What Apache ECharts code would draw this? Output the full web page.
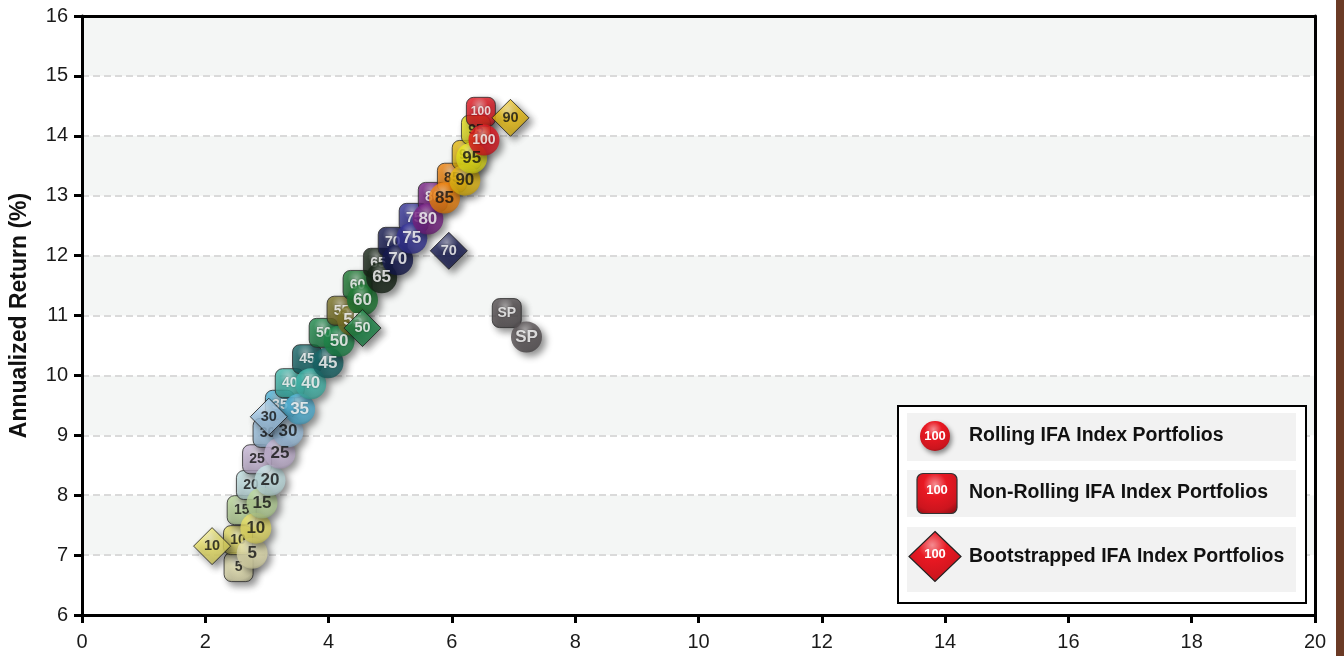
<!DOCTYPE html>
<html>
<head>
<meta charset="utf-8">
<script src="https://cdn.jsdelivr.net/npm/echarts@6/dist/echarts.min.js"></script>
<style>
  html, body { margin: 0; padding: 0; background: #ffffff; }
  #chart { width: 1344px; height: 656px; }
</style>
</head>
<body>
<div id="chart"></div>
<script>
// Equity allocation (%) of each IFA Index Portfolio
const allocations = [5, 10, 15, 20, 25, 30, 35, 40, 45, 50, 55, 60, 65, 70, 75, 80, 85, 90, 95, 100];

// Rolling portfolios: annualized standard deviation and return (%)
const rollingRisk   = [2.76, 2.82, 2.92, 3.05, 3.21, 3.34, 3.53, 3.71, 3.99, 4.17, 4.39, 4.55, 4.86, 5.12, 5.35, 5.61, 5.88, 6.21, 6.32, 6.52];
const rollingReturn = [7.03, 7.45, 7.87, 8.25, 8.70, 9.06, 9.44, 9.86, 10.21, 10.57, 10.92, 11.26, 11.63, 11.93, 12.29, 12.61, 12.96, 13.26, 13.63, 13.93];

// Non-rolling portfolios
const nonRollingRisk   = [2.54, 2.53, 2.59, 2.74, 2.84, 3.01, 3.21, 3.37, 3.65, 3.92, 4.21, 4.47, 4.80, 5.04, 5.38, 5.69, 6.00, 6.24, 6.39, 6.47];
const nonRollingReturn = [6.80, 7.25, 7.75, 8.17, 8.60, 9.04, 9.51, 9.87, 10.27, 10.71, 11.08, 11.51, 11.88, 12.23, 12.63, 12.98, 13.30, 13.68, 14.10, 14.40];

// Bootstrapped portfolios
const bootAllocations = [10, 30, 50, 70, 90];
const bootRisk   = [2.11, 3.03, 4.55, 5.95, 6.95];
const bootReturn = [7.15, 9.31, 10.79, 12.08, 14.30];

// S&P 500 reference points [risk, return]
const spRolling    = [7.21, 10.64];
const spNonRolling = [6.89, 11.04];

// Axis ticks
const xTicks = [0, 2, 4, 6, 8, 10, 12, 14, 16, 18, 20];
const yTicks = [6, 7, 8, 9, 10, 11, 12, 13, 14, 15, 16];

// Palette per allocation
const palette = {
  5: '#ece8b6', 10: '#efe66a', 15: '#bfdc9e', 20: '#c8e8ea', 25: '#cdbcdc',
  30: '#a6cdec', 35: '#55b9de', 40: '#45bdb0', 45: '#17696b', 50: '#1f8c4c',
  55: '#7e7628', 60: '#1f7d35', 65: '#172617', 70: '#161a52', 75: '#37359a',
  80: '#7d2489', 85: '#f5870f', 90: '#edc012', 95: '#ece91c', 100: '#e81822',
  SP: '#585254'
};
const darkText = { 5: 1, 10: 1, 15: 1, 20: 1, 25: 1, 30: 1, 85: 1, 90: 1, 95: 1 };

function hexToRgb(h) {
  const n = parseInt(h.slice(1), 16);
  return [(n >> 16) & 255, (n >> 8) & 255, n & 255];
}
function mix(h, t, k) {
  const a = hexToRgb(h), b = hexToRgb(t);
  const c = a.map((v, i) => Math.round(v + (b[i] - v) * k));
  return 'rgb(' + c.join(',') + ')';
}
function gloss(h) {
  return {
    type: 'radial', x: 0.45, y: 0.28, r: 0.8,
    colorStops: [
      { offset: 0, color: mix(h, '#ffffff', 0.5) },
      { offset: 0.35, color: h },
      { offset: 0.8, color: mix(h, '#000000', 0.12) },
      { offset: 1, color: mix(h, '#000000', 0.35) }
    ]
  };
}

function makePoint(key, x, y, kind) {
  const dark = darkText[key];
  const isHundred = key === 100;
  let fs;
  if (kind === 'circle') fs = isHundred ? 14 : 17;
  else if (kind === 'square') fs = isHundred ? 12 : 14;
  else fs = 14.5;
  return {
    value: [x, y],
    name: String(key),
    itemStyle: { color: gloss(palette[key]) },
    label: {
      color: dark ? '#111' : '#ffffff',
      fontSize: fs,
      textShadowColor: dark ? 'transparent' : 'rgba(0,0,0,0.5)',
      textShadowBlur: dark ? 0 : 2
    }
  };
}

const rollingData = allocations.map((a, i) => makePoint(a, rollingRisk[i], rollingReturn[i], 'circle'));
rollingData.push(makePoint('SP', spRolling[0], spRolling[1], 'circle'));
const nonRollingData = allocations.map((a, i) => makePoint(a, nonRollingRisk[i], nonRollingReturn[i], 'square'));
nonRollingData.unshift(makePoint('SP', spNonRolling[0], spNonRolling[1], 'square'));
const bootData = bootAllocations.map((a, i) => makePoint(a, bootRisk[i], bootReturn[i], 'diamond'));

const shadow = {
  shadowBlur: 7, shadowOffsetX: 4, shadowOffsetY: 4, shadowColor: 'rgba(0,0,0,0.55)'
};
const labelBase = {
  show: true, position: 'inside', fontWeight: 'bold',
  fontFamily: 'Liberation Sans, Arial, sans-serif',
  formatter: p => p.name
};

const FONT = 'Liberation Sans, Arial, sans-serif';
const red = '#e81822';

// Legend drawn as graphic elements
const legendLeft = 897, legendTop = 405;
const legendItems = [
  { text: 'Rolling IFA Index Portfolios', top: 413, h: 48, icon: 'circle' },
  { text: 'Non-Rolling IFA Index Portfolios', top: 470, h: 47, icon: 'square' },
  { text: 'Bootstrapped IFA Index Portfolios', top: 527, h: 65, icon: 'diamond' }
];
const legendGraphics = [{
  type: 'rect', left: legendLeft, top: legendTop, z: 20,
  shape: { width: 408, height: 197 },
  style: { fill: '#ffffff', stroke: '#000000', lineWidth: 2 }
}];
legendItems.forEach(it => {
  const cy = it.top + it.h / 2;
  legendGraphics.push({
    type: 'rect', left: 907, top: it.top, z: 21,
    shape: { width: 389, height: it.h }, style: { fill: '#f2f2f2' }
  });
  let iconShape;
  if (it.icon === 'circle') {
    iconShape = { type: 'circle', x: 935, y: cy - 1, z: 22, shape: { cx: 0, cy: 0, r: 15 },
      style: { fill: gloss(red), shadowBlur: 5, shadowOffsetX: 2, shadowOffsetY: 3, shadowColor: 'rgba(0,0,0,0.45)' } };
  } else if (it.icon === 'square') {
    iconShape = { type: 'rect', x: 917, y: cy - 20, z: 22, shape: { width: 40, height: 40, r: 6 },
      style: { fill: gloss(red), stroke: '#333', lineWidth: 1.2 } };
  } else {
    iconShape = { type: 'polygon', x: 935, y: cy - 3, z: 22,
      shape: { points: [[0, -25], [26, 0], [0, 25], [-26, 0]] },
      style: { fill: gloss(red), stroke: '#222', lineWidth: 1.2 } };
  }
  legendGraphics.push(iconShape);
  const iconCx = it.icon === 'square' ? 937 : 935;
  const iconCy = it.icon === 'diamond' ? cy - 5 : (it.icon === 'square' ? cy - 3 : cy - 1);
  legendGraphics.push({
    type: 'text', x: iconCx, y: iconCy, z: 23,
    style: { text: '100', fill: '#ffffff', font: 'bold 13px ' + FONT, align: 'center', verticalAlign: 'middle' }
  });
  legendGraphics.push({
    type: 'text', x: 969, y: it.icon === 'diamond' ? cy - 3 : cy - 1, z: 23,
    style: { text: it.text, fill: '#111111', font: 'bold 19.5px ' + FONT, verticalAlign: 'middle' }
  });
});
// Brown edge band
legendGraphics.push({
  type: 'rect', left: 1336, top: 0, z: 1,
  shape: { width: 8, height: 656 }, style: { fill: '#6b3a25' }
});

const axisFrame = { show: true, onZero: false, lineStyle: { color: '#000', width: 3 } };

const chart = echarts.init(document.getElementById('chart'), null, { renderer: 'canvas' });
chart.setOption({
  backgroundColor: '#ffffff',
  animation: false,
  textStyle: { fontFamily: FONT },
  grid: { left: 82, right: 29, top: 16, bottom: 41, show: false },
  xAxis: [{
    type: 'value', min: xTicks[0], max: xTicks[xTicks.length - 1], interval: 2,
    axisLine: axisFrame,
    axisTick: { show: true, length: 8, lineStyle: { color: '#000', width: 3 } },
    axisLabel: { color: '#1a1a1a', fontSize: 20, margin: 17, fontFamily: FONT },
    splitLine: { show: false }, z: 1
  }, {
    // top frame edge
    type: 'value', position: 'top', min: xTicks[0], max: xTicks[xTicks.length - 1], interval: 2,
    axisLine: axisFrame, axisTick: { show: false }, axisLabel: { show: false },
    splitLine: { show: false }, z: 1
  }],
  yAxis: [{
    type: 'value', min: yTicks[0], max: yTicks[yTicks.length - 1], interval: 1,
    name: 'Annualized Return (%)', nameLocation: 'middle', nameGap: 51, nameRotate: 90,
    nameTextStyle: { color: '#111', fontSize: 23, fontWeight: 'bold', fontFamily: FONT },
    axisLine: axisFrame,
    axisTick: { show: true, length: 8, lineStyle: { color: '#000', width: 3 } },
    axisLabel: { color: '#1a1a1a', fontSize: 20, margin: 14, fontFamily: FONT },
    splitLine: { show: true, lineStyle: { color: '#dadada', width: 2, type: [7, 4] } },
    splitArea: { show: true, areaStyle: { color: ['#ffffff', '#f4f6f5'] } }, z: 0
  }, {
    // right frame edge
    type: 'value', position: 'right', min: yTicks[0], max: yTicks[yTicks.length - 1], interval: 1,
    axisLine: axisFrame, axisTick: { show: false }, axisLabel: { show: false },
    splitLine: { show: false }, z: 1
  }],
  series: [
    {
      name: 'Non-Rolling IFA Index Portfolios', type: 'scatter', z: 3,
      symbol: 'roundRect', symbolSize: 29,
      itemStyle: Object.assign({ borderColor: '#2a2a2a', borderWidth: 1 }, shadow),
      label: labelBase, data: nonRollingData
    },
    {
      name: 'Rolling IFA Index Portfolios', type: 'scatter', z: 4,
      symbol: 'circle', symbolSize: 31,
      itemStyle: shadow,
      label: labelBase, data: rollingData
    },
    {
      name: 'Bootstrapped IFA Index Portfolios', type: 'scatter', z: 5,
      symbol: 'diamond', symbolSize: 37,
      itemStyle: Object.assign({ borderColor: '#1a1a1a', borderWidth: 1 }, shadow),
      label: labelBase, data: bootData
    }
  ],
  graphic: legendGraphics
});
</script>
</body>
</html>
